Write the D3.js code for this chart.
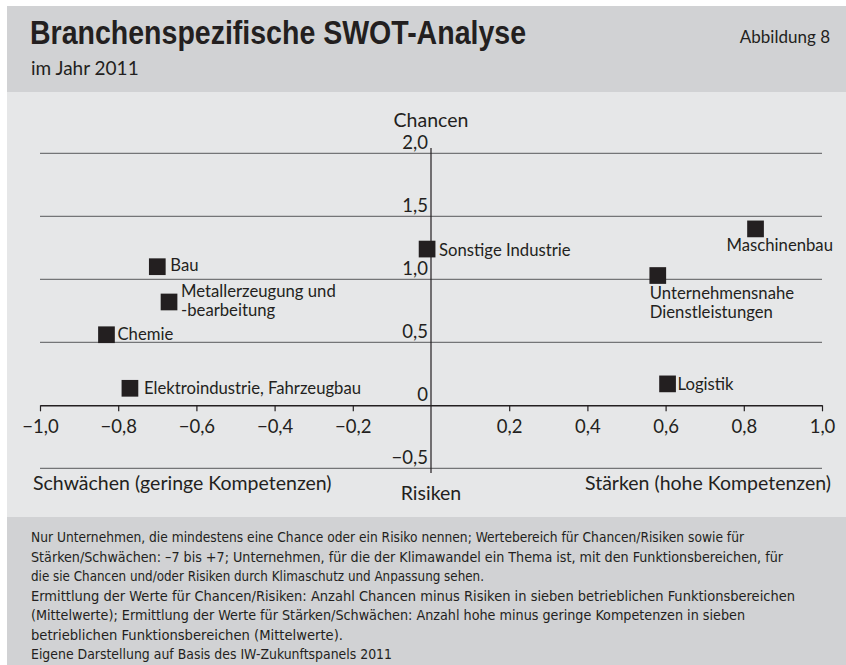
<!DOCTYPE html>
<html lang="de">
<head>
<meta charset="utf-8">
<title>Branchenspezifische SWOT-Analyse</title>
<script src="https://d3js.org/d3.v7.min.js"></script>
<style>
  body { margin: 0; background: #fff; }
  svg { display: block; }
  text { fill: #231f20; }
  .lbl { font-family: Lato, "Noto Sans", sans-serif; font-size: 16.7px; }
  .big { font-family: Lato, "Noto Sans", sans-serif; font-size: 19.5px; }
  .tick text { font-family: Lato, "Noto Sans", sans-serif; font-size: 18.5px; fill: #231f20; }
  .note { font-family: "Liberation Sans Narrow", "DejaVu Sans Condensed", sans-serif; font-size: 14.8px; }
</style>
</head>
<body>
<script>
// Data
var branches = ["Bau", "Metallerzeugung und -bearbeitung", "Chemie", "Elektroindustrie, Fahrzeugbau",
                "Sonstige Industrie", "Maschinenbau", "Unternehmensnahe Dienstleistungen", "Logistik"];
var staerken = [-0.70, -0.67, -0.83, -0.77, -0.01, 0.83, 0.58, 0.605];   // x: Stärken/Schwächen
var chancen  = [1.10, 0.82, 0.56, 0.135, 1.24, 1.40, 1.03, 0.17];        // y: Chancen/Risiken
var xTicks = [-1.0, -0.8, -0.6, -0.4, -0.2, 0.2, 0.4, 0.6, 0.8, 1.0];
var yTicks = [2.0, 1.5, 1.0, 0.5, -0.5];
var notes = [
  "Nur Unternehmen, die mindestens eine Chance oder ein Risiko nennen; Wertebereich für Chancen/Risiken sowie für",
  "Stärken/Schwächen: \u20137 bis +7; Unternehmen, für die der Klimawandel ein Thema ist, mit den Funktionsbereichen, für",
  "die sie Chancen und/oder Risiken durch Klimaschutz und Anpassung sehen.",
  "Ermittlung der Werte für Chancen/Risiken: Anzahl Chancen minus Risiken in sieben betrieblichen Funktionsbereichen",
  "(Mittelwerte); Ermittlung der Werte für Stärken/Schwächen: Anzahl hohe minus geringe Kompetenzen in sieben",
  "betrieblichen Funktionsbereichen (Mittelwerte).",
  "Eigene Darstellung auf Basis des IW-Zukunftspanels 2011"
];

// label placement relative to the marker centre (dx, first baseline dy, lines)
var labelPos = [
  {dx: 13, dy: 4,  lines: ["Bau"]},
  {dx: 12, dy: -5, lines: ["Metallerzeugung und", "-bearbeitung"]},
  {dx: 11, dy: 5,  lines: ["Chemie"]},
  {dx: 14, dy: 6,  lines: ["Elektroindustrie, Fahrzeugbau"]},
  {dx: 12, dy: 7,  lines: ["Sonstige Industrie"]},
  {dx: -29, dy: 22, lines: ["Maschinenbau"]},
  {dx: -8, dy: 23, lines: ["Unternehmensnahe", "Dienstleistungen"]},
  {dx: 10, dy: 6,  lines: ["Logistik"]}
];
var noteEnds = [744, 783, 484, 795, 745, 343, 392];

var w = 846, h = 665;
var fmt = function(d) { return d3.format(".1f")(d).replace("-", "\u2013").replace(".", ","); };

var svg = d3.select("body").append("svg").attr("width", w).attr("height", h);

// background panels
svg.append("rect").attr("x", 7).attr("y", 6).attr("width", w - 7).attr("height", 86).attr("fill", "#d1d2d4");
svg.append("rect").attr("x", 7).attr("y", 92).attr("width", w - 7).attr("height", 425).attr("fill", "#e6e7e8");
svg.append("rect").attr("x", 7).attr("y", 517).attr("width", w - 7).attr("height", h - 517).attr("fill", "#d1d2d4");

// header
svg.append("text").attr("x", 30).attr("y", 44)
   .style("font-family", "'Liberation Sans Narrow', sans-serif").style("font-weight", "bold").style("font-size", "33px")
   .attr("textLength", 496).attr("lengthAdjust", "spacingAndGlyphs")
   .text("Branchenspezifische SWOT-Analyse");
svg.append("text").attr("x", 31).attr("y", 75)
   .style("font-family", "Lato, sans-serif").style("font-size", "19px")
   .text("im Jahr 2011");
svg.append("text").attr("x", 830).attr("y", 43).attr("text-anchor", "end")
   .style("font-family", "Lato, sans-serif").style("font-size", "17px")
   .text("Abbildung 8");

// scales
var x = d3.scaleLinear().domain([-1, 1]).range([40, 822]);
var y = d3.scaleLinear().domain([-0.5, 2]).range([468.3, 153.3]);

// horizontal gridlines + labels
var grid = svg.append("g");
grid.selectAll("line").data(yTicks).enter().append("line")
    .attr("x1", x(-1)).attr("x2", x(1))
    .attr("y1", function(d) { return y(d); }).attr("y2", function(d) { return y(d); })
    .attr("stroke", "#58595b").attr("stroke-width", 1);
grid.selectAll("text").data(yTicks.concat([0])).enter().append("text")
    .attr("class", "lbl").style("font-size", "18.5px")
    .attr("x", x(0) - 3).attr("y", function(d) { return y(d) - 4.5; })
    .attr("text-anchor", "end")
    .text(function(d) { return d === 0 ? "0" : fmt(d); });

// vertical axis
svg.append("line").attr("x1", x(0)).attr("x2", x(0)).attr("y1", 148).attr("y2", 473)
   .attr("stroke", "#231f20").attr("stroke-width", 1.2);

// x axis
var xAxis = d3.axisBottom(x).tickValues(xTicks).tickSize(6).tickPadding(9).tickFormat(fmt).tickSizeOuter(0);
var gx = svg.append("g").attr("transform", "translate(0," + y(0) + ")").call(xAxis);
gx.select(".domain").attr("stroke", "#231f20").attr("stroke-width", 1.5);
gx.selectAll(".tick line").attr("stroke", "#231f20").attr("stroke-width", 1.2);

// axis titles
svg.append("text").attr("class", "big")
   .attr("x", x(0)).attr("y", 127).attr("text-anchor", "middle").text("Chancen");
svg.append("text").attr("class", "big")
   .attr("x", x(0)).attr("y", 500).attr("text-anchor", "middle").text("Risiken");
svg.append("text").attr("class", "big")
   .attr("x", 33).attr("y", 490).text("Schwächen (geringe Kompetenzen)");
svg.append("text").attr("class", "big")
   .attr("x", 831).attr("y", 490).attr("text-anchor", "end").text("Stärken (hohe Kompetenzen)");

// points
var sz = 16.7;
var pts = svg.append("g").selectAll("g").data(branches).enter().append("g")
    .attr("transform", function(d, i) { return "translate(" + x(staerken[i]) + "," + y(chancen[i]) + ")"; });
pts.append("rect").attr("x", -sz / 2).attr("y", -sz / 2).attr("width", sz).attr("height", sz).attr("fill", "#231f20");
pts.append("text").attr("class", "lbl")
   .attr("x", function(d, i) { return labelPos[i].dx; })
   .attr("y", function(d, i) { return labelPos[i].dy; })
   .each(function(d, i) {
     var t = d3.select(this);
     labelPos[i].lines.forEach(function(l, k) {
       t.append("tspan").attr("x", labelPos[i].dx).attr("dy", k === 0 ? 0 : 19.5).text(l);
     });
   });

// footnote
svg.append("g").selectAll("text").data(notes).enter().append("text")
   .attr("class", "note")
   .attr("x", 31).attr("y", function(d, i) { return 542 + i * 19.5; })
   .attr("textLength", function(d, i) { return noteEnds[i] - 31; })
   .attr("lengthAdjust", "spacingAndGlyphs")
   .text(function(d) { return d; });
</script>
</body>
</html>
